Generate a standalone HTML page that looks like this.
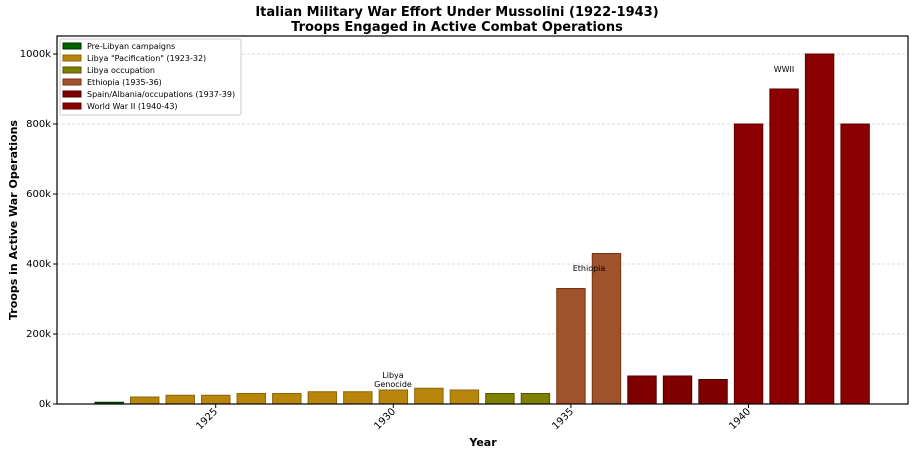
<!DOCTYPE html><html><head><meta charset="utf-8"><style>body{margin:0;background:#fff}svg{display:block;font-family:"DejaVu Sans","Liberation Sans",sans-serif}</style></head><body>
<svg width="915" height="454" xmlns="http://www.w3.org/2000/svg">
<text x="457" y="16" text-anchor="middle" font-size="13" font-weight="bold">Italian Military War Effort Under Mussolini (1922-1943)</text>
<text x="457" y="31" text-anchor="middle" font-size="13" font-weight="bold">Troops Engaged in Active Combat Operations</text>
<g stroke="#ccc" stroke-dasharray="3,2" stroke-width="0.8">
<line x1="57" x2="908" y1="54" y2="54"/><line x1="57" x2="908" y1="124" y2="124"/><line x1="57" x2="908" y1="194" y2="194"/><line x1="57" x2="908" y1="264" y2="264"/><line x1="57" x2="908" y1="334" y2="334"/></g>
<g stroke-width="1">
<rect x="95.0" y="402.25" width="28.4" height="1.75" fill="#006400" stroke="#003000"/>
<g fill="#b8860b" stroke="#8b6508">
<rect x="130.52" y="397" width="28.4" height="7"/>
<rect x="166.04" y="395.25" width="28.4" height="8.75"/>
<rect x="201.56" y="395.25" width="28.4" height="8.75"/>
<rect x="237.08" y="393.5" width="28.4" height="10.5"/>
<rect x="272.6" y="393.5" width="28.4" height="10.5"/>
<rect x="308.12" y="391.75" width="28.4" height="12.25"/>
<rect x="343.64" y="391.75" width="28.4" height="12.25"/>
<rect x="379.16" y="390" width="28.4" height="14"/>
<rect x="414.68" y="388.25" width="28.4" height="15.75"/>
<rect x="450.2" y="390" width="28.4" height="14"/></g>
<g fill="#808000" stroke="#555500">
<rect x="485.72" y="393.5" width="28.4" height="10.5"/>
<rect x="521.24" y="393.5" width="28.4" height="10.5"/></g>
<g fill="#a0522d" stroke="#7a3010">
<rect x="556.76" y="288.5" width="28.4" height="115.5"/>
<rect x="592.28" y="253.5" width="28.4" height="150.5"/></g>
<g fill="#800000" stroke="#500000">
<rect x="627.8" y="376" width="28.4" height="28"/>
<rect x="663.32" y="376" width="28.4" height="28"/>
<rect x="698.84" y="379.5" width="28.4" height="24.5"/></g>
<g fill="#8b0000" stroke="#600000">
<rect x="734.36" y="124" width="28.4" height="280"/>
<rect x="769.88" y="89" width="28.4" height="315"/>
<rect x="805.4" y="54" width="28.4" height="350"/>
<rect x="840.92" y="124" width="28.4" height="280"/></g>
</g>
<rect x="57" y="36" width="851" height="368" fill="none" stroke="#000" stroke-width="1.2"/>
<g font-size="10" text-anchor="end">
<text x="51" y="407">0k</text><text x="51" y="337">200k</text><text x="51" y="267">400k</text><text x="51" y="197">600k</text><text x="51" y="127">800k</text><text x="51" y="57">1000k</text></g>
<g stroke="#000"><line x1="53" x2="57" y1="404" y2="404"/><line x1="53" x2="57" y1="334" y2="334"/><line x1="53" x2="57" y1="264" y2="264"/><line x1="53" x2="57" y1="194" y2="194"/><line x1="53" x2="57" y1="124" y2="124"/><line x1="53" x2="57" y1="54" y2="54"/>
<line x1="215.7" x2="215.7" y1="404" y2="408"/><line x1="393.3" x2="393.3" y1="404" y2="408"/><line x1="570.9" x2="570.9" y1="404" y2="408"/><line x1="748.5" x2="748.5" y1="404" y2="408"/></g>
<g font-size="10" text-anchor="end">
<text transform="translate(218,412) rotate(-45)">1925</text><text transform="translate(396,412) rotate(-45)">1930</text><text transform="translate(574,412) rotate(-45)">1935</text><text transform="translate(751,412) rotate(-45)">1940</text></g>
<text x="483" y="446" text-anchor="middle" font-size="11" font-weight="bold">Year</text>
<text transform="translate(17,220) rotate(-90)" text-anchor="middle" font-size="11" font-weight="bold">Troops in Active War Operations</text>
<g font-size="8" text-anchor="middle"><text x="393" y="378">Libya</text><text x="393" y="387">Genocide</text><text x="589" y="271">Ethiopia</text><text x="784" y="72">WWII</text></g>
<rect x="60" y="39" width="181" height="76" fill="#fff" stroke="#ccc" rx="2"/>
<g font-size="8">
<rect x="63" y="43" width="18" height="6" fill="#006400" stroke="#003000"/><text x="87" y="49">Pre-Libyan campaigns</text>
<rect x="63" y="55" width="18" height="6" fill="#b8860b" stroke="#8b6508"/><text x="87" y="61">Libya "Pacification" (1923-32)</text>
<rect x="63" y="67" width="18" height="6" fill="#808000" stroke="#555500"/><text x="87" y="73">Libya occupation</text>
<rect x="63" y="79" width="18" height="6" fill="#a0522d" stroke="#7a3010"/><text x="87" y="85">Ethiopia (1935-36)</text>
<rect x="63" y="91" width="18" height="6" fill="#800000" stroke="#500000"/><text x="87" y="97">Spain/Albania/occupations (1937-39)</text>
<rect x="63" y="103" width="18" height="6" fill="#8b0000" stroke="#600000"/><text x="87" y="109">World War II (1940-43)</text></g>
</svg></body></html>
